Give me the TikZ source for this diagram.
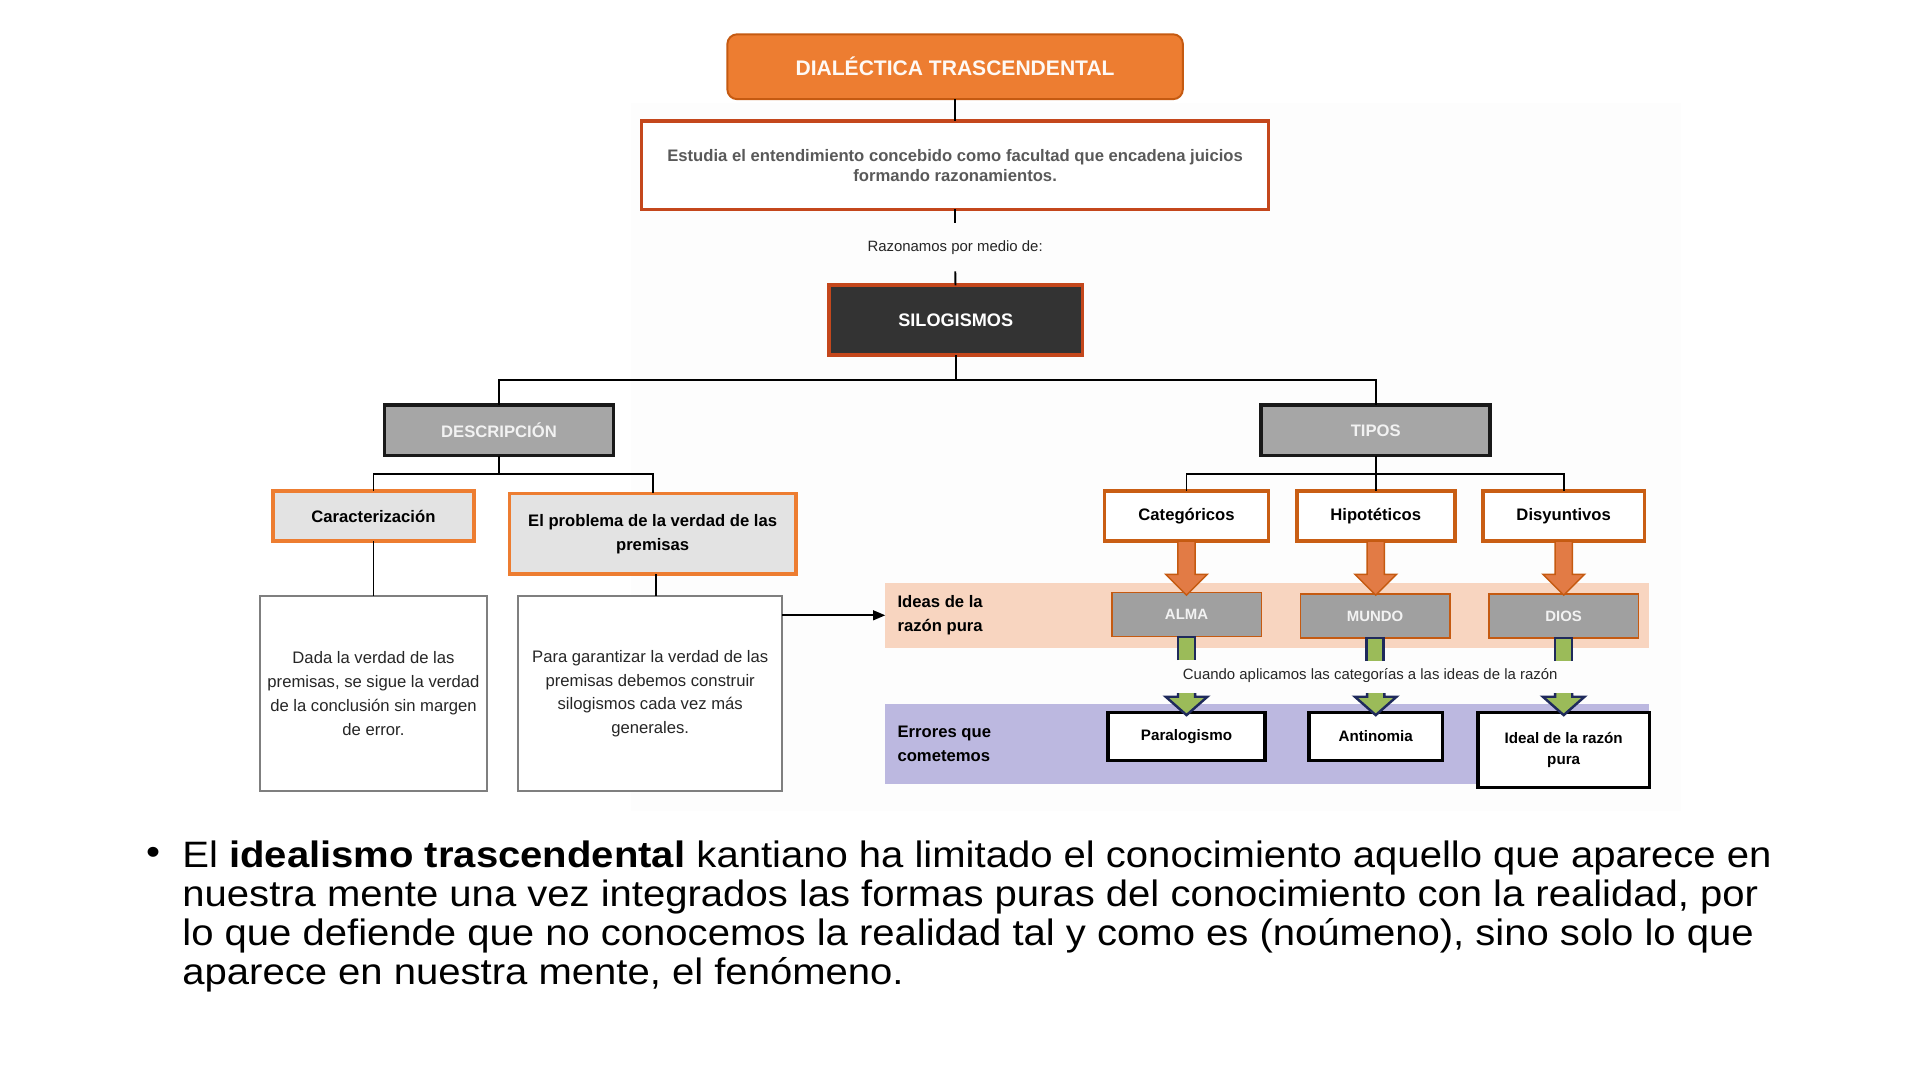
\documentclass[tikz,border=0pt]{standalone}
\usepackage{fontspec}
\setmainfont{Liberation Sans}
\newfontfamily\widefont[FakeStretch=1.09]{Liberation Sans}
\usetikzlibrary{arrows.meta,calc}
\definecolor{orfill}{HTML}{ED7D31}
\definecolor{ordark}{HTML}{C55A11}
\definecolor{redor}{HTML}{C4471C}
\definecolor{txtgray}{HTML}{595959}
\definecolor{darkbox}{HTML}{333333}
\definecolor{midgray}{HTML}{A6A6A6}
\definecolor{lightgray}{HTML}{E3E3E3}
\definecolor{peach}{HTML}{F8D5C0}
\definecolor{lav}{HTML}{BCB8E0}
\definecolor{grn}{HTML}{9BBB59}
\definecolor{navy}{HTML}{1F2A5C}
\definecolor{boxgray}{HTML}{7F7F7F}
\definecolor{faint}{HTML}{FDFDFD}
\definecolor{almagray}{HTML}{A0A0A0}
\definecolor{arrowor}{HTML}{E27B45}
\def\u{0.5pt}
\tikzset{
  every node/.style={inner sep=0pt, outer sep=0pt, align=center},
  conn/.style={draw=black, line width=0.75pt},
  titlebox/.style={draw=ordark, line width=0.8pt, fill=orfill, rounded corners=4pt,
     text=white!95!orfill, font=\fontsize{8.6}{10}\selectfont\bfseries},
  mainbox/.style={draw=redor, line width=1.5pt, fill=white, text=txtgray,
     font=\fontsize{6.8}{8}\selectfont\bfseries},
  silobox/.style={draw=redor, line width=1.5pt, fill=darkbox, text=white,
     font=\fontsize{7.4}{9}\selectfont\bfseries},
  graybox/.style={draw=black!90, line width=1.5pt, fill=midgray, text=white!95!black,
     font=\fontsize{6.8}{8}\selectfont\bfseries},
  descbox/.style={draw=orfill, line width=1.5pt, fill=lightgray, text=black,
     font=\fontsize{6.8}{9.8}\selectfont\bfseries},
  textbox/.style={draw=boxgray, line width=0.8pt, fill=white, text=black!85,
     font=\fontsize{6.8}{9.75}\selectfont},
  typebox/.style={draw=ordark!90!orfill, line width=1.5pt, fill=white, text=black,
     font=\fontsize{6.8}{8}\selectfont\bfseries},
  ideabox/.style={draw=ordark, line width=0.6pt, fill=almagray, text=white!95!black,
     font=\fontsize{6.1}{7}\selectfont\bfseries},
  errbox/.style={draw=black, line width=1.5pt, fill=white, text=black,
     font=\fontsize{6.2}{8.6}\selectfont\bfseries},
  bandlabel/.style={anchor=west, align=left, text=black,
     font=\fontsize{6.8}{9.5}\selectfont\bfseries},
  smalllabel/.style={text=black!85, font=\fontsize{6.1}{7}\selectfont},
  bigarrow/.pic={
    \filldraw[fill=arrowor, draw=ordark, line width=0.6pt]
      (-7,0) -- (7,0) -- (7,27) -- (17,27) -- (0,44) -- (-17,27) -- (-7,27) -- cycle;
  },
  greentop/.pic={
    \fill[grn] (-7,0) rectangle (7,19);
    \draw[navy, line width=1pt] (-7,19) -- (-7,0) -- (7,0) -- (7,19);
  },
  greenhead/.pic={
    \fill[grn] (-7,0) -- (7,0) -- (7,3) -- (17,3) -- (0,18) -- (-17,3) -- (-7,3) -- cycle;
    \draw[navy, line width=1pt, line join=miter] (7,0) -- (7,3) -- (17,3) -- (0,18) -- (-17,3) -- (-7,3) -- (-7,0);
  }
}
\begin{document}
\begin{tikzpicture}[x=0.5pt, y=-0.5pt]
\useasboundingbox (0,0) rectangle (1568,882);
\fill[white] (0,0) rectangle (1568,882);
\fill[faint] (515,84) rectangle (1373,662);

% bands
\node[fill=peach, minimum width=624*\u, minimum height=53*\u] (ideas) at (1035,502.5) {};
\node[fill=lav, minimum width=624*\u, minimum height=65*\u] (errores) at (1035,607.5) {};
\node[bandlabel] (ideaslbl) at (733,502.5) {Ideas de la\\razón pura};
\node[bandlabel] (errlbl) at (733,607.5) {Errores que\\cometemos};

% top chain
\node[titlebox, minimum width=372*\u, minimum height=53*\u] (title) at (780,54.5) {DIALÉCTICA TRASCENDENTAL};
\node[mainbox, minimum width=512*\u, minimum height=72*\u] (estudia) at (780,135)
  {Estudia el entendimiento concebido como facultad que encadena juicios\\formando razonamientos.};
\node[smalllabel, inner ysep=7pt] (razon) at (780,202) {Razonamos por medio de:};
\node[silobox, minimum width=207*\u, minimum height=57*\u] (silo) at (780.5,261.5) {SILOGISMOS};

\draw[conn] (title) -- (estudia);
\draw[conn] (estudia) -- (razon);
\draw[conn] (razon) -- (silo);

% second level
\node[graybox, minimum width=187*\u, minimum height=41*\u] (desc) at (407.5,351.5) {DESCRIPCIÓN};
\node[graybox, minimum width=187*\u, minimum height=41*\u] (tipos) at (1123.5,351.5) {TIPOS};
\draw[conn] (silo.south) -- ++(0,20) -| (desc.north);
\draw[conn] (silo.south) -- ++(0,20) -| (tipos.north);

% description branch
\node[descbox, minimum width=164*\u, minimum height=41*\u] (car) at (305,421.5) {Caracterización};
\node[descbox, minimum width=234*\u, minimum height=66*\u] (prob) at (533,436) {El problema de la verdad de las\\premisas};
\draw[conn] (desc.south) -- ++(0,15) -| (car.north);
\draw[conn] (desc.south) -- ++(0,15) -| (prob.north);

\node[textbox, minimum width=186*\u, minimum height=159*\u] (d1) at (305,566.5)
  {Dada la verdad de las\\premisas, se sigue la verdad\\de la conclusión sin margen\\de error.};
\node[textbox, minimum width=216*\u, minimum height=159*\u] (d2) at (531,566.5)
  {Para garantizar la verdad de las\\premisas debemos construir\\silogismos cada vez más\\generales.};
\draw[conn] (car.south) -- (car.south |- d1.north);
\draw[conn] ([xshift=1.5pt]prob.south) -- ([xshift=1.5pt]prob.south |- d2.north);
\draw[conn, -{Triangle[length=5pt,width=4pt]}] (d2.east |- ideas.west) -- (ideas.west);

% types branch
\node[typebox, minimum width=134*\u, minimum height=41*\u] (cat) at (969,421.5) {Categóricos};
\node[typebox, minimum width=129*\u, minimum height=41*\u] (hip) at (1123.5,421.5) {Hipotéticos};
\node[typebox, minimum width=132*\u, minimum height=41*\u] (dis) at (1277,421.5) {Disyuntivos};
\draw[conn] (tipos.south) -- ++(0,15) -| (cat.north);
\draw[conn] (tipos.south) -- (hip.north);
\draw[conn] (tipos.south) -- ++(0,15) -| (dis.north);

\node[ideabox, minimum width=122*\u, minimum height=36*\u] (alma) at (969,502) {ALMA};
\node[ideabox, minimum width=122*\u, minimum height=36*\u] (mundo) at (1123,503) {MUNDO};
\node[ideabox, minimum width=122*\u, minimum height=36*\u] (dios) at (1277,503) {DIOS};

\pic at (cat.south) {bigarrow};
\pic at (hip.south) {bigarrow};
\pic at (dis.south) {bigarrow};

\pic at (alma.south) {greentop};
\pic at (mundo.south) {greentop};
\pic at (dios.south) {greentop};

\node[smalllabel] (cuando) at (1119,552) {Cuando aplicamos las categorías a las ideas de la razón};

\node[errbox, minimum width=128*\u, minimum height=39*\u] (para) at (969,601.5) {Paralogismo};
\node[errbox, minimum width=109*\u, minimum height=39*\u] (anti) at (1123.5,601.5) {Antinomia};
\node[errbox, minimum width=140*\u, minimum height=61*\u] (ideal) at (1277,612.5) {Ideal de la razón\\pura};

\pic at ($(para.north)+(0,-16)$) {greenhead};
\pic at ($(anti.north)+(0,-16)$) {greenhead};
\pic at ($(ideal.north)+(0,-16)$) {greenhead};

% bullet text
\node[font=\widefont\fontsize{15}{15.85}\selectfont] (bullet) at (125,699) {•};
\node[anchor=north west, align=left, text=black, font=\widefont\fontsize{15}{15.85}\selectfont] (para1) at (149,687)
  {El \textbf{idealismo trascendental} kantiano ha limitado el conocimiento aquello que aparece en\\
   nuestra mente una vez integrados las formas puras del conocimiento con la realidad, por\\
   lo que defiende que no conocemos la realidad tal y como es (noúmeno), sino solo lo que\\
   aparece en nuestra mente, el fenómeno.};
\end{tikzpicture}
\end{document}
